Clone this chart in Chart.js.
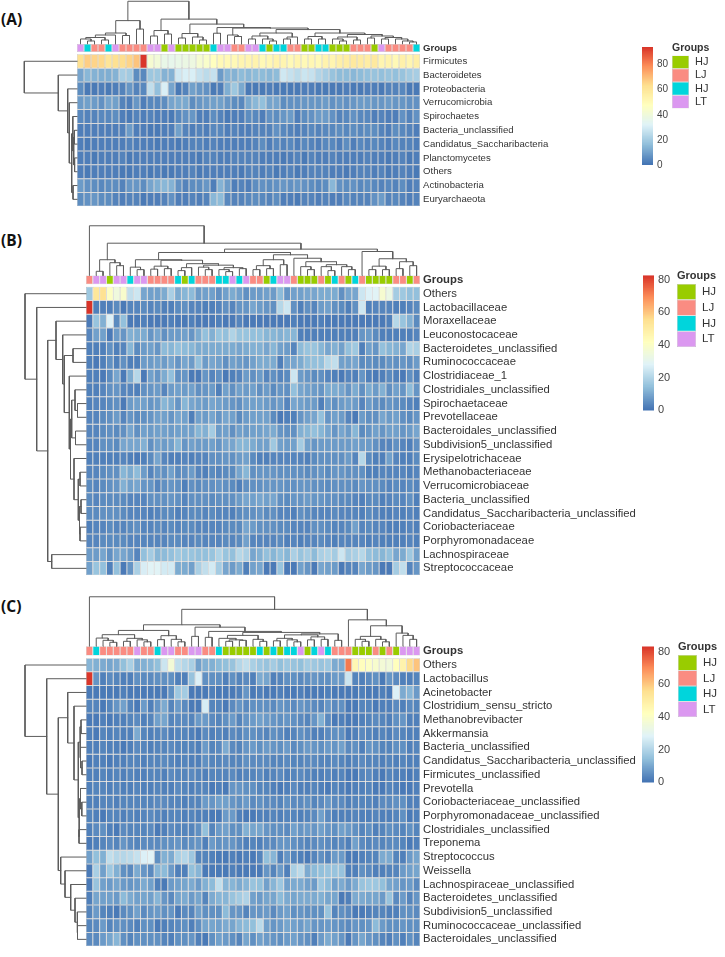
<!DOCTYPE html>
<html>
<head>
<meta charset="utf-8">
<title>Heatmaps</title>
<script src="https://cdn.jsdelivr.net/npm/chart.js@4/dist/chart.umd.min.js"></script>
<style>
    html, body { margin:0; padding:0; background:#fff; overflow:hidden; width:725px; height:957px; }
    canvas { position:absolute; display:block; }
    .tag { position:absolute; left:1px; font:bold 15.5px "Open Sans", sans-serif; color:#111; line-height:18px; }
</style>
</head>
<body>
<script>
// group annotation of the columns, G = HJ green, S = LJ salmon, C = HJ cyan, P = LT pink
var groupNames  = ['HJ','LJ','HJ','LT'];
var groupCodes  = ['G','S','C','P'];
var groupsA     = 'PCSSCPSSSSPPGPGGGGGCPPSSPPCGCCSSGGCCGGGSSSGPSSSSC'.split('');
var groupsB     = 'SPPGPPCPPSSSSCGCSSSCCPCPSSGCPPSGGGSGCSGCSGGGGSSGS'.split('');
var groupsC     = 'SCSSSSSPSSCPPSSPPSSCGGGGGCGCGCCPGCPCSSSGGGSGSGPPP'.split('');

var rowsA = ['Firmicutes','Bacteroidetes','Proteobacteria','Verrucomicrobia','Spirochaetes','Bacteria_unclassified','Candidatus_Saccharibacteria','Planctomycetes','Others','Actinobacteria','Euryarchaeota'];
var rowsB = ['Others','Lactobacillaceae','Moraxellaceae','Leuconostocaceae','Bacteroidetes_unclassified','Ruminococcaceae','Clostridiaceae_1','Clostridiales_unclassified','Spirochaetaceae','Prevotellaceae','Bacteroidales_unclassified','Subdivision5_unclassified','Erysipelotrichaceae','Methanobacteriaceae','Verrucomicrobiaceae','Bacteria_unclassified','Candidatus_Saccharibacteria_unclassified','Coriobacteriaceae','Porphyromonadaceae','Lachnospiraceae','Streptococcaceae'];
var rowsC = ['Others','Lactobacillus','Acinetobacter','Clostridium_sensu_stricto','Methanobrevibacter','Akkermansia','Bacteria_unclassified','Candidatus_Saccharibacteria_unclassified','Firmicutes_unclassified','Prevotella','Coriobacteriaceae_unclassified','Porphyromonadaceae_unclassified','Clostridiales_unclassified','Treponema','Streptococcus','Weissella','Lachnospiraceae_unclassified','Bacteroidetes_unclassified','Subdivision5_unclassified','Ruminococcaceae_unclassified','Bacteroidales_unclassified'];

// relative abundance per cell, one line per row
var valuesA = [
    [62,66,65,64,60,62,63,65,68,93, 42,40,36,35,36,37,38,42,44,47, 50,50,50,52,52,53,50,51,53,52, 50,52,50,51,50,53,52,55,56,58, 57,56,58,52,53,50,54,52,55],
    [10,14,13,12,12,13,20,19,5,4, 18,18,13,13,28,30,30,26,24,26, 8,13,13,15,14,15,15,14,15,28, 26,24,27,26,22,20,17,15,15,14, 15,16,17,16,17,16,17,19,20],
    [5,1,1,2,1,2,3,7,3,4, 25,16,30,10,1,3,9,7,6,1, 2,12,18,11,1,1,1,2,1,1, 1,1,2,2,1,1,1,1,2,1, 1,2,2,1,3,3,4,1,1],
    [8,9,8,6,10,9,3,2,7,2, 4,4,5,10,11,11,5,7,8,9, 9,7,5,4,11,14,16,10,10,5, 6,6,7,7,7,8,6,7,6,7, 8,8,7,7,8,7,7,6,6],
    [4,3,3,4,4,5,2,1,3,2, 3,2,2,1,4,6,7,2,2,5, 3,1,2,2,5,4,2,6,5,7, 8,2,5,6,8,8,6,3,4,6, 4,4,2,3,2,2,6,3,6],
    [2,2,2,2,2,2,2,8,2,2, 1,1,2,2,9,3,2,3,2,4, 4,2,3,2,2,3,3,3,6,4, 3,2,3,4,3,4,4,5,4,5, 4,5,5,3,2,5,4,3,2],
    [2,1,2,2,2,2,2,3,2,2, 2,1,2,2,1,2,3,3,2,3, 2,2,2,2,2,3,5,2,4,3, 4,2,4,3,2,4,4,2,5,2, 4,3,4,3,2,4,3,3,2],
    [2,2,1,2,2,2,3,1,2,2, 2,2,2,2,2,2,2,1,3,3, 2,2,3,3,3,3,2,2,2,1, 2,3,1,3,2,2,3,2,2,2, 2,3,2,2,1,2,3,1,2],
    [2,1,2,2,2,2,1,1,2,2, 1,2,1,1,2,2,3,1,2,2, 2,2,2,1,3,3,2,3,1,2, 3,1,2,3,3,3,2,2,1,2, 3,3,2,3,1,2,3,2,1],
    [8,6,5,4,5,5,3,7,7,5, 10,12,14,13,6,3,5,5,7,2, 13,8,2,3,2,5,6,5,6,7, 6,7,6,5,4,5,14,6,5,6, 4,5,4,3,4,3,5,2,3],
    [5,6,7,5,5,3,2,3,3,1, 2,2,3,6,2,2,3,2,3,14, 15,4,3,3,4,5,4,3,5,2, 2,1,3,3,2,3,2,2,4,3, 3,3,6,8,3,4,3,2,3]
];
var valuesB = [
    [16,52,54,40,34,38,22,24,9,8, 8,10,18,10,12,13,7,8,8,5, 8,10,8,5,7,7,8,7,13,6, 8,8,9,9,10,10,10,5,9,9, 24,27,28,37,32,17,16,14,14],
    [82,2,2,2,4,1,3,3,4,3, 4,2,2,4,5,3,3,2,2,3, 5,3,6,6,9,7,6,5,20,24, 5,2,5,3,7,8,5,4,2,5, 24,2,3,3,3,2,2,3,4],
    [1,15,11,27,4,14,1,1,2,1, 1,1,2,1,1,2,1,1,1,2, 1,1,3,1,1,1,1,1,1,1, 2,1,1,1,2,1,1,1,1,1, 1,1,1,1,2,20,15,11,4],
    [3,8,8,1,7,6,11,10,10,6, 9,5,7,7,8,6,10,14,11,15, 14,19,15,15,14,14,12,12,11,12, 12,2,2,2,2,2,2,2,2,2, 6,7,4,2,2,2,2,2,3],
    [2,2,2,5,2,3,12,4,7,8, 6,13,12,14,13,12,10,10,10,10, 10,10,9,10,11,11,9,12,8,7, 3,13,15,15,12,9,11,8,14,16, 2,8,6,14,12,11,9,19,18],
    [2,1,2,5,2,5,2,2,7,7, 8,7,9,6,9,7,14,7,9,8, 5,8,7,6,8,10,10,10,2,8, 9,10,13,14,14,20,22,8,8,9, 4,5,4,4,6,5,6,5,7],
    [2,2,1,4,9,1,10,20,1,8, 6,10,14,5,6,1,1,6,3,5, 1,2,3,7,5,7,3,5,3,4, 24,7,6,4,5,3,2,1,3,2, 6,2,1,2,4,2,1,5,2],
    [2,2,3,5,6,3,3,2,5,6, 7,3,7,8,7,8,5,6,7,2, 8,5,8,7,8,5,7,4,6,5, 14,9,8,7,6,10,10,9,6,10, 5,10,7,11,5,8,6,13,6],
    [2,3,3,4,5,1,7,8,8,6, 7,12,10,6,12,9,8,7,9,8, 7,6,5,8,8,8,7,6,7,3, 9,8,7,7,2,7,5,7,8,7, 3,7,5,4,6,5,4,3,2],
    [3,3,4,5,7,3,6,4,5,6, 8,8,6,9,8,2,8,7,9,6, 9,8,4,7,8,8,8,4,1,2, 2,6,8,9,14,6,8,7,3,1, 7,5,5,9,7,8,5,4,6],
    [3,3,4,5,4,5,9,5,8,7, 8,8,7,8,8,8,12,11,17,7, 8,5,8,7,8,8,9,10,6,5, 5,11,12,14,12,9,6,9,7,12, 4,6,8,6,8,8,6,7,9],
    [3,3,5,5,4,9,9,9,11,5, 8,7,8,12,6,8,7,7,8,6, 9,9,12,12,10,8,8,16,8,7, 8,17,8,6,7,7,7,7,7,8, 7,7,5,3,3,5,3,2,5],
    [2,2,2,2,2,3,2,1,2,4, 9,3,2,2,3,2,3,3,5,5, 6,5,7,8,4,2,2,3,3,3, 3,3,2,4,5,5,5,5,7,3, 20,4,2,2,8,3,2,2,4],
    [3,3,4,5,5,12,10,13,7,3, 6,5,8,4,5,7,3,2,4,3, 4,4,9,12,5,6,6,6,5,5, 5,5,4,5,6,4,6,6,5,5, 5,2,2,3,3,3,3,2,3],
    [4,3,4,5,6,11,8,9,6,6, 3,5,6,5,2,5,4,5,5,6, 5,4,2,5,5,5,6,6,6,5, 5,6,6,5,5,4,5,5,5,4, 6,5,5,4,3,4,3,4,3],
    [4,3,4,4,4,4,3,3,3,5, 5,5,6,5,3,5,5,5,4,5, 5,5,7,9,8,9,8,9,5,4, 6,6,7,6,6,5,5,4,4,3, 2,4,4,2,3,4,3,5,2],
    [4,4,5,5,5,4,3,3,3,2, 3,4,4,2,3,4,4,3,4,3, 3,2,4,5,5,6,4,5,3,3, 2,5,4,3,3,3,4,3,3,3, 2,4,3,2,2,3,2,3,2],
    [2,3,3,4,3,3,4,5,3,3, 4,3,4,3,4,4,3,3,3,3, 4,4,4,9,7,5,5,5,4,4, 3,3,3,5,5,4,3,3,4,8, 3,4,3,3,2,2,2,3,2],
    [3,3,4,4,4,4,3,3,3,3, 3,3,4,4,3,3,4,3,3,3, 4,3,4,8,3,3,3,3,4,2, 3,2,3,3,4,3,2,3,3,3, 3,2,3,2,2,2,2,3,2],
    [7,7,9,5,9,9,7,3,14,17, 12,13,14,16,15,15,14,14,15,19, 15,14,20,18,9,11,14,12,14,12, 18,15,17,13,18,19,17,24,17,18, 20,14,13,12,14,9,10,16,8],
    [8,15,14,2,14,1,6,18,26,28, 28,25,25,10,10,8,18,22,25,17, 9,7,10,2,8,9,1,1,15,1, 1,8,6,1,9,8,7,1,3,3, 9,7,6,1,1,17,22,3,6]
];
var valuesC = [
    [12,11,10,9,10,14,18,10,11,12, 14,24,36,22,20,18,8,11,11,13, 14,15,20,22,18,16,15,17,14,16, 15,14,17,16,15,16,10,10,72,45, 42,40,38,36,35,42,47,56,60],
    [82,6,2,4,3,2,2,5,4,4, 5,5,5,2,2,15,27,5,5,5, 2,5,3,4,2,10,9,2,3,5, 5,4,5,6,5,5,7,7,24,3, 2,4,5,1,6,4,2,2,3],
    [1,1,1,1,1,2,1,1,1,1, 1,1,5,16,17,1,1,1,2,1, 1,1,2,6,1,2,1,1,2,1, 1,2,1,1,1,2,1,1,1,1, 2,1,1,2,1,27,10,12,7],
    [3,3,1,3,6,8,3,1,7,2, 6,10,3,7,4,1,1,26,3,3, 1,4,6,4,5,5,5,4,6,5, 4,6,5,4,3,6,4,5,1,1, 3,3,1,2,2,4,2,4,3],
    [1,1,2,1,2,2,3,4,2,3, 8,9,3,4,4,3,7,7,4,3, 5,7,3,6,7,8,7,6,5,6, 5,4,3,6,11,4,1,2,1,1, 2,3,4,3,2,5,6,2,2],
    [2,1,3,2,3,2,2,10,3,2, 3,4,2,3,3,2,1,4,2,3, 2,4,3,5,5,4,3,5,4,2, 3,5,4,2,2,4,5,5,1,2, 4,3,2,3,2,4,3,2,2],
    [2,2,3,2,2,1,2,4,3,2, 3,3,4,3,3,3,2,7,3,4, 10,4,3,6,7,5,7,6,5,7, 4,5,7,6,5,7,6,8,4,5, 2,6,5,3,3,5,5,2,3],
    [1,2,2,1,2,2,3,3,2,3, 3,4,3,2,3,2,2,5,3,3, 4,3,3,5,4,4,4,3,3,4, 3,3,4,4,3,3,4,3,2,3, 4,3,3,2,3,2,3,2,2],
    [2,2,3,2,3,2,3,2,2,3, 3,2,4,3,3,4,3,2,3,3, 3,4,2,3,3,4,2,3,4,2, 3,4,3,2,2,3,2,3,1,1, 3,4,2,1,3,2,2,1,2],
    [2,3,3,2,3,2,2,3,2,2, 3,2,2,4,3,2,3,3,1,2, 1,6,6,5,5,3,3,2,1,2, 4,2,2,3,2,1,3,2,1,2, 2,3,1,1,3,2,1,1,2],
    [2,2,3,3,2,3,3,3,3,3, 4,4,3,3,2,3,3,7,6,8, 8,6,5,7,4,5,4,4,3,5, 4,4,5,3,4,6,4,4,2,3, 3,3,2,4,4,5,5,2,2],
    [3,2,1,3,3,2,3,2,3,4, 3,2,3,3,2,3,2,2,1,1, 7,7,2,1,1,2,2,3,2,3, 3,2,3,4,8,4,2,2,2,3, 2,2,3,2,2,3,5,1,2],
    [2,4,5,2,1,4,3,3,3,4, 1,2,4,3,3,3,5,14,3,7, 8,5,5,11,9,9,6,5,5,4, 8,6,7,6,8,6,5,8,7,5, 3,5,2,3,5,4,3,5,3],
    [1,2,3,4,3,6,4,3,4,4, 4,5,5,6,4,5,6,2,7,5, 6,6,4,2,3,2,4,4,6,6, 5,4,3,4,5,4,3,4,2,8, 4,3,4,3,4,4,3,1,2],
    [8,14,11,22,20,20,21,23,27,28, 5,11,10,18,20,16,3,3,2,1, 1,2,1,2,1,3,14,12,2,6, 3,2,1,3,5,3,7,7,1,1, 2,3,3,10,10,3,2,7,9],
    [1,18,8,16,11,5,4,10,6,4, 12,13,7,2,2,14,12,1,1,1, 1,2,1,1,1,1,6,3,7,2, 18,21,10,13,14,15,15,15,2,2, 5,4,2,2,3,3,7,8,9],
    [1,15,8,7,9,7,6,7,10,8, 2,1,7,8,9,10,7,11,13,22, 12,12,10,12,15,14,8,12,16,8, 10,10,8,7,16,13,8,10,7,10, 15,16,16,14,9,8,6,7,4],
    [2,9,8,8,7,13,10,8,9,8, 12,6,4,9,10,7,9,3,10,12, 12,15,17,19,8,7,9,9,13,10, 9,10,10,10,11,9,9,1,2,10, 10,9,9,7,15,4,7,3,6],
    [3,7,3,2,1,4,5,8,4,6, 7,5,6,1,4,3,8,5,5,5, 13,6,6,3,6,6,7,4,7,8, 5,6,5,5,5,15,3,5,4,1, 1,2,3,3,2,2,5,5,4],
    [3,4,7,3,5,5,4,2,5,5, 1,2,3,4,5,2,5,9,9,8, 10,9,12,13,14,21,8,6,7,9, 8,7,9,6,6,7,6,5,4,6, 5,6,13,7,5,5,6,5,5],
    [4,4,7,9,12,5,3,5,5,5, 5,3,2,5,5,6,2,1,5,8, 7,5,3,9,5,8,7,6,5,7, 8,6,5,2,7,10,8,6,1,6, 9,6,5,3,2,5,2,5,3]
];

// dendrograms as [merge height, left child, right child], 0 is a leaf
var topTreeA = [43,
    [23.5, [11, [9,[6.5,[5,0,[3,0,0]],[4,0,0]],0], [8.5,0,0]], [15,0,0]],
    [25, [13.5,[8,0,0],[10,0,0]],
        [20, [10.5,[6,0,0],[7,0,[4,0,0]]],
            [16.5, [10.8,0,0],
                [16, [9,0,[7.5,0,0]],
                    [14.5, [11,[8,[5,0,0],[5,0,[3,0,0]]],[7,[5,0,0],0]],
                        [11, [7.5,[5,0,0],[5,0,0]],
                            [9.5,[7,[5,0,[3,0,0]],[4,0,0]],[8,[6,0,0],[6.5,[5,0,0],[5,0,[3,0,[2,0,0]]]]]]]]]]]]];
var leftTreeA = [52.7,0,[18.7,0,[9.3,0,[7.7,0,[5.3,[4.2,0,[3.3,[2.6,0,0],[2.4,0,0]]],[4,0,0]]]]]];

var topTreeB = [50.3, 0,
    [32.7, [16,[4.3,0,0],[13,0,[10,0,0]]],
        [26.7,
            [23.3,
                [16, [8.5,0,[6,0,0]],
                    [15.5, [9.5,[6.5,0,0],[7,0,0]],
                        [12, [8,[5,0,0],0], [10.5,[8.5,0,[6,0,0]],[8,[6,0,[4,0,0]],[7,0,0]]]]]],
                [21, [16,[10,[6,0,0],[7,0,0]],[11,0,0]],
                    [17.5,0,[14,[9,0,[6,0,0]],[11,[9,0,[5,0,0]],[9,0,[6,0,0]]]]]]],
            [24.3,0,[17,[9.5,[6,0,0],[6,0,0]],[14,[7,0,0],[10,0,0]]]]]]];
var leftTreeB = [61,0,[49.3,0,[38.3,
    [30,0,[23.3,0,[21.7,[13,0,0],[16.7,0,
        [15.5,[14.3,[11,0,[8.5,0,0]],[10.5,0,0]],[12,0,[7.7,[6,0,0],[6.5,[5,0,0],[6,0,0]]]]]]]]],
    [34.3,0,0]]]];

var topTreeC = [50, 0,
    [37.3,
        [21.7,
            [16, [11.7,[8.3,0,[6,0,[4,0,0]]],[8,[5,0,0],[6.5,0,[4.5,0,0]]]],
                [10.7,[6.7,0,0],[7,0,[4.5,0,0]]]],
            [19.3, [10,0,0],
                [15, [9,0,0],
                    [14, [11,[8,0,[6.5,[5,0,0],[6,0,0]]],[7,0,[5,0,0]]],
                        [12.5,[11.5,[8,[5.5,0,0],[6.5,0,[4.5,0,0]]],[9.5,[6.5,0,0],[7,0,0]]],[6,0,0]]]]]],
        [26.7,0,[20.7,[10,[7,0,[5,0,0]],[7,0,[4.5,0,0]]],[13.3,0,[11,0,[7,0,0]]]]]]];
var leftTreeC = [61,0,[39.3,0,[27.7,
    [18.3,0,[12,0,[7.7,[6,[5,0,0],[5.5,0,[4,0,0]]],[6.8,[5.5,0,[4.2,0,0]],[7,0,0]]]]],
    [25.3,0,[21,0,[15.3,0,[11,0,[8.7,0,[8.5,0,0]]]]]]]]];

var barTicks    =   [0,20,40,60,80];
var paletteStops =  ['#4575B4','#91BFDB','#E0F3F8','#FFFFBF','#FEE090','#FC8D59','#D73027'];
var groupColors =   ['#99CC00','#FA8C82','#00D5DC','#DB98F0'];
var chartFont   =   '"Liberation Sans", Arial, sans-serif';

// page layout of the three panels
var panels = [
    {tag:'(A)', tagY:10, rows:rowsA, values:valuesA, groups:groupsA, topTree:topTreeA, leftTree:leftTreeA, max:94,
     boxLeft:23, boxTop:0, heatLeft:77, heatRight:420, rowTop:54, rowBottom:207, annTop:43.5, annBottom:51.5, labelSize:9.6,
     barLeft:641.5, barWidth:11, barTop:44.7, barBottom:167, barFont:10, swLeft:672, swWidth:17, swTop:55, swBottom:107.5, swFont:10.5},
    {tag:'(B)', tagY:231, rows:rowsB, values:valuesB, groups:groupsB, topTree:topTreeB, leftTree:leftTreeB, max:82.4,
     boxLeft:23, boxTop:223, heatLeft:86, heatRight:420, rowTop:285.7, rowBottom:577, annTop:274.3, annBottom:283, labelSize:11.3,
     barLeft:642.5, barWidth:11.5, barTop:273, barBottom:413, barFont:11, swLeft:677, swWidth:19, swTop:284, swBottom:346, swFont:11},
    {tag:'(C)', tagY:597, rows:rowsC, values:valuesC, groups:groupsC, topTree:topTreeC, leftTree:leftTreeC, max:83,
     boxLeft:23, boxTop:594, heatLeft:86, heatRight:420, rowTop:657, rowBottom:948, annTop:645, annBottom:654.3, labelSize:11.3,
     barLeft:641.5, barWidth:12, barTop:644, barBottom:785, barFont:11, swLeft:678, swWidth:19, swTop:655, swBottom:716, swFont:11}
];

var EDGE = 8;   // room for half a tick label above and below the plot

function hexToRgb(hex) {
    return [parseInt(hex.substr(1,2),16), parseInt(hex.substr(3,2),16), parseInt(hex.substr(5,2),16)];
}

function colorOf(value, max) {
    var t   =   Math.min(Math.max(value / max, 0), 1) * (paletteStops.length - 1);
    var i   =   Math.min(Math.floor(t), paletteStops.length - 2);
    var a   =   hexToRgb(paletteStops[i]);
    var b   =   hexToRgb(paletteStops[i + 1]);
    var f   =   t - i;
    return 'rgb(' + a.map((c, k) => Math.round(c + (b[k] - c) * f)).join(',') + ')';
}

function addCanvas(left, top, width, height) {
    var canvas = document.createElement('canvas');
    canvas.width            =   width;
    canvas.height           =   height;
    canvas.style.left       =   left + 'px';
    canvas.style.top        =   top + 'px';
    canvas.style.width      =   width + 'px';
    canvas.style.height     =   height + 'px';
    document.body.appendChild(canvas);
    return canvas.getContext('2d');
}

// walks a tree, pushes the three sides of every merge, returns the node position
function treePoints(node, state, isTop) {
    if (node === 0) {
        state.leaf++;
        return {pos:state.leaf - 0.5, height:0};
    }
    var a   =   treePoints(node[1], state, isTop);
    var b   =   treePoints(node[2], state, isTop);
    var h   =   node[0];
    var sides = [[a.pos,a.height],[a.pos,h],[b.pos,h],[b.pos,b.height]];
    sides.forEach(s => {
        state.points.push(isTop ? {x:s[0], y:s[1]} : {x:s[1], y:s[0]});
    });
    state.points.push({x:null, y:null});
    return {pos:(a.pos + b.pos) / 2, height:h};
}

function treeDataset(tree, isTop) {
    var state = {leaf:0, points:[]};
    treePoints(tree, state, isTop);
    return {
        type:'line',
        data:state.points,
        xAxisID:isTop ? 'x' : 'treeX',
        yAxisID:isTop ? 'treeY' : 'y',
        borderColor:'#5c5c5c',
        borderWidth:1,
        pointRadius:0,
        tension:0,
        spanGaps:false,
        borderCapStyle:'square',
        clip:false
    };
}

function cellDataset(cells, colors, borderColor) {
    return {
        type:'bar',
        data:cells,
        xAxisID:'x',
        yAxisID:'y',
        grouped:false,
        barPercentage:1,
        categoryPercentage:1,
        backgroundColor:colors,
        borderColor:borderColor,
        borderWidth:0.5,
        borderSkipped:false,
        inflateAmount:0
    };
}

function drawHeatmap(p) {
    var nCols   =   p.groups.length;
    var nRows   =   p.rows.length;
    var colW    =   (p.heatRight - p.heatLeft) / nCols;
    var rowH    =   (p.rowBottom - p.rowTop) / nRows;
    var axisW   =   218;
    var width   =   p.heatRight - p.boxLeft + axisW;
    var height  =   p.rowBottom - p.boxTop + EDGE * 2;
    var ctx     =   addCanvas(p.boxLeft, p.boxTop - EDGE, width, height);

    var annFrom =   (p.annTop - p.rowTop) / rowH;
    var annTo   =   (p.annBottom - p.rowTop) / rowH;

    var datasets = [];
    datasets.push(treeDataset(p.topTree, true));
    datasets.push(treeDataset(p.leftTree, false));
    datasets.push(cellDataset(
        p.groups.map((g, c) => ({x:c + 0.5, y:[annFrom, annTo]})),
        p.groups.map(g => groupColors[groupCodes.indexOf(g)]),
        'rgba(170,170,170,0.7)'
    ));
    p.values.forEach((row, r) => {
        datasets.push(cellDataset(
            row.map((v, c) => ({x:c + 0.5, y:[r, r + 1]})),
            row.map(v => colorOf(v, p.max)),
            'rgba(150,150,150,0.75)'
        ));
    });

    var tickValues = [(annFrom + annTo) / 2].concat(p.rows.map((n, r) => r + 0.5));

    new Chart(ctx, {
        data:{datasets:datasets},
        options:{
            responsive:false,
            animation:false,
            devicePixelRatio:1,
            layout:{padding:{top:EDGE, bottom:EDGE, left:0, right:0}},
            plugins:{legend:{display:false}, tooltip:{enabled:false}},
            scales:{
                x:{
                    type:'linear',
                    display:false,
                    offset:false,
                    min:-(p.heatLeft - p.boxLeft) / colW,
                    max:nCols
                },
                treeX:{
                    type:'linear',
                    display:false,
                    reverse:true,
                    min:-(p.heatRight - p.heatLeft),
                    max:p.heatLeft - p.boxLeft
                },
                treeY:{
                    type:'linear',
                    display:false,
                    min:-(p.rowBottom - p.annTop),
                    max:p.annTop - p.boxTop
                },
                y:{
                    type:'linear',
                    position:'right',
                    reverse:true,
                    min:-(p.rowTop - p.boxTop) / rowH,
                    max:nRows,
                    grid:{display:false, drawTicks:false},
                    border:{display:false},
                    afterBuildTicks:function (scale) {
                        scale.ticks = tickValues.map(v => ({value:v}));
                    },
                    afterFit:function (scale) {
                        scale.width = axisW;
                    },
                    ticks:{
                        autoSkip:false,
                        padding:3,
                        color:'#333',
                        callback:function (value, index) {
                            return index === 0 ? 'Groups' : p.rows[index - 1];
                        },
                        font:function (c) {
                            return {family:chartFont, size:p.labelSize, weight:c.index === 0 ? 'bold' : 'normal'};
                        }
                    }
                }
            }
        }
    });
}

function drawColorBar(p) {
    var axisW   =   26;
    var ctx     =   addCanvas(p.barLeft, p.barTop - EDGE, p.barWidth + axisW, p.barBottom - p.barTop + EDGE * 2);
    var steps   =   [];
    for (var v = 0; v < p.max; v += 0.5) {
        steps.push(v);
    }
    new Chart(ctx, {
        type:'bar',
        data:{
            labels:[''],
            datasets:steps.map(v => ({
                data:[[v, Math.min(v + 0.5, p.max)]],
                grouped:false,
                barPercentage:1,
                categoryPercentage:1,
                backgroundColor:colorOf(v, p.max),
                borderWidth:0,
                inflateAmount:0.5
            }))
        },
        options:{
            responsive:false,
            animation:false,
            devicePixelRatio:1,
            layout:{padding:{top:EDGE, bottom:EDGE, left:0, right:0}},
            plugins:{legend:{display:false}, tooltip:{enabled:false}},
            scales:{
                x:{display:false},
                y:{
                    position:'right',
                    min:0,
                    max:p.max,
                    grid:{display:false, drawTicks:false},
                    border:{display:false},
                    afterBuildTicks:function (scale) {
                        scale.ticks = barTicks.map(v => ({value:v}));
                    },
                    afterFit:function (scale) {
                        scale.width = axisW;
                    },
                    ticks:{
                        padding:4,
                        color:'#444',
                        font:{family:chartFont, size:p.barFont}
                    }
                }
            }
        }
    });
}

function drawSwatches(p) {
    var axisW       =   30;
    var titleH      =   p.swFont + 3;
    // the plot comes out a title height short of the canvas, so the canvas runs on below the swatches
    var ctx         =   addCanvas(p.swLeft, p.swTop - titleH, p.swWidth + axisW, p.swBottom - p.swTop + titleH * 2);
    new Chart(ctx, {
        type:'bar',
        data:{
            labels:groupNames,
            datasets:[{
                data:groupNames.map(() => [0, 1]),
                backgroundColor:groupColors,
                borderColor:'rgba(170,170,170,0.8)',
                borderWidth:0.5,
                borderSkipped:false,
                barPercentage:1,
                categoryPercentage:1,
                inflateAmount:0
            }]
        },
        options:{
            indexAxis:'y',
            responsive:false,
            animation:false,
            devicePixelRatio:1,
            layout:{autoPadding:false, padding:0},
            plugins:{
                legend:{display:false},
                tooltip:{enabled:false},
                title:{
                    display:true,
                    text:'Groups',
                    align:'start',
                    color:'#333',
                    padding:{top:0, bottom:2},
                    font:{family:chartFont, size:p.swFont, weight:'bold', lineHeight:1.1}
                }
            },
            scales:{
                x:{display:false, min:0, max:1},
                y:{
                    position:'right',
                    grid:{display:false, drawTicks:false},
                    border:{display:false},
                    afterFit:function (scale) {
                        scale.width = axisW;
                    },
                    ticks:{
                        autoSkip:false,
                        padding:6,
                        color:'#333',
                        font:{family:chartFont, size:p.swFont + 0.5}
                    }
                }
            }
        }
    });
}

panels.forEach(p => {
    var tag = document.createElement('div');
    tag.className   =   'tag';
    tag.style.top   =   p.tagY + 'px';
    tag.textContent =   p.tag;
    document.body.appendChild(tag);

    drawHeatmap(p);
    drawColorBar(p);
    drawSwatches(p);
});
</script>
</body>
</html>
